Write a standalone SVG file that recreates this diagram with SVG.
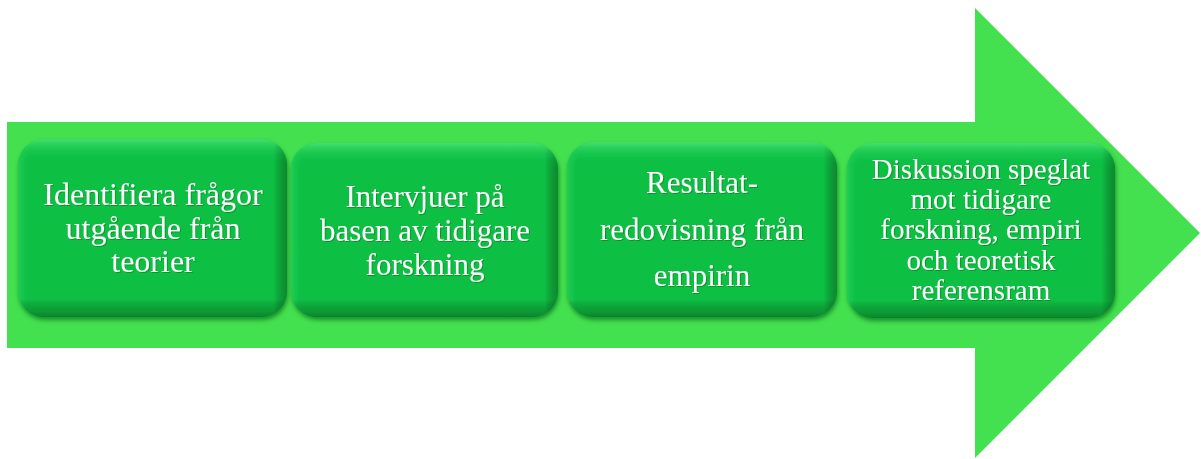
<svg xmlns="http://www.w3.org/2000/svg" width="1201" height="459" viewBox="0 0 1201 459">
  <defs>
    <linearGradient id="bevV" x1="0" y1="0" x2="0" y2="1">
      <stop offset="0" stop-color="#7dff9a" stop-opacity="0.5"/>
      <stop offset="0.07" stop-color="#3fe070" stop-opacity="0.2"/>
      <stop offset="0.14" stop-color="#0bbf43" stop-opacity="0"/>
      <stop offset="0.9" stop-color="#000" stop-opacity="0"/>
      <stop offset="0.97" stop-color="#004010" stop-opacity="0.3"/>
      <stop offset="1" stop-color="#003a0d" stop-opacity="0.45"/>
    </linearGradient>
    <linearGradient id="bevH" x1="0" y1="0" x2="1" y2="0">
      <stop offset="0" stop-color="#5fef85" stop-opacity="0.3"/>
      <stop offset="0.05" stop-color="#0bbf43" stop-opacity="0"/>
      <stop offset="0.95" stop-color="#000" stop-opacity="0"/>
      <stop offset="1" stop-color="#003a0d" stop-opacity="0.4"/>
    </linearGradient>
    <filter id="shadow" x="-10%" y="-10%" width="120%" height="125%">
      <feGaussianBlur in="SourceAlpha" stdDeviation="2"/>
      <feOffset dx="1" dy="3" result="b"/>
      <feFlood flood-color="#0a5a1c" flood-opacity="0.6"/>
      <feComposite in2="b" operator="in"/>
      <feMerge><feMergeNode/><feMergeNode in="SourceGraphic"/></feMerge>
    </filter>
    <filter id="tshadow" x="-5%" y="-20%" width="110%" height="140%">
      <feGaussianBlur in="SourceAlpha" stdDeviation="0.7"/>
      <feOffset dx="1" dy="1.2" result="b"/>
      <feFlood flood-color="#004010" flood-opacity="0.35"/>
      <feComposite in2="b" operator="in"/>
      <feMerge><feMergeNode/><feMergeNode in="SourceGraphic"/></feMerge>
    </filter>
  </defs>
  <style>
    .arrow { fill: #43e04f; }
    .box { fill: #0bbf43; }
    .bv { fill: url(#bevV); }
    .bh { fill: url(#bevH); }
    .lbl { font-family: "Liberation Serif", "Times New Roman", serif; font-size: 31px; fill: #ffffff; text-anchor: middle; }
    .lg { font-size: 32px; }
    .sm { font-size: 29px; }
  </style>
  <rect width="1201" height="459" fill="#ffffff"/>
  <g id="arrow">
    <polygon class="arrow" points="7,122 975,122 975,8 1200,233 975,458 975,348 7,348"/>
  </g>
  <g id="connectors"></g>
  <g id="node1" filter="url(#shadow)">
    <rect class="box" x="18" y="139" width="269" height="178" rx="26"/>
    <rect class="bh" x="18" y="139" width="269" height="178" rx="26"/>
    <rect class="bv" x="18" y="139" width="269" height="178" rx="26"/>
    <text class="lbl lg" filter="url(#tshadow)"><tspan x="153" y="205">Identifiera frågor</tspan><tspan x="153" y="239">utgående från</tspan><tspan x="153" y="272">teorier</tspan></text>
  </g>
  <g id="node2" filter="url(#shadow)">
    <rect class="box" x="291" y="143" width="267" height="174" rx="26"/>
    <rect class="bh" x="291" y="143" width="267" height="174" rx="26"/>
    <rect class="bv" x="291" y="143" width="267" height="174" rx="26"/>
    <text class="lbl" filter="url(#tshadow)"><tspan x="425" y="207">Intervjuer på</tspan><tspan x="425" y="241">basen av tidigare</tspan><tspan x="425" y="275">forskning</tspan></text>
  </g>
  <g id="node3" filter="url(#shadow)">
    <rect class="box" x="567" y="142" width="270" height="175" rx="26"/>
    <rect class="bh" x="567" y="142" width="270" height="175" rx="26"/>
    <rect class="bv" x="567" y="142" width="270" height="175" rx="26"/>
    <text class="lbl" filter="url(#tshadow)"><tspan x="702" y="193">Resultat-</tspan><tspan x="702" y="240">redovisning från</tspan><tspan x="702" y="286">empirin</tspan></text>
  </g>
  <g id="node4" filter="url(#shadow)">
    <rect class="box" x="847" y="143" width="268" height="175" rx="26"/>
    <rect class="bh" x="847" y="143" width="268" height="175" rx="26"/>
    <rect class="bv" x="847" y="143" width="268" height="175" rx="26"/>
    <text class="lbl sm" filter="url(#tshadow)"><tspan x="981" y="179">Diskussion speglat</tspan><tspan x="981" y="209">mot tidigare</tspan><tspan x="981" y="239">forskning, empiri</tspan><tspan x="981" y="270">och teoretisk</tspan><tspan x="981" y="300">referensram</tspan></text>
  </g>
</svg>
